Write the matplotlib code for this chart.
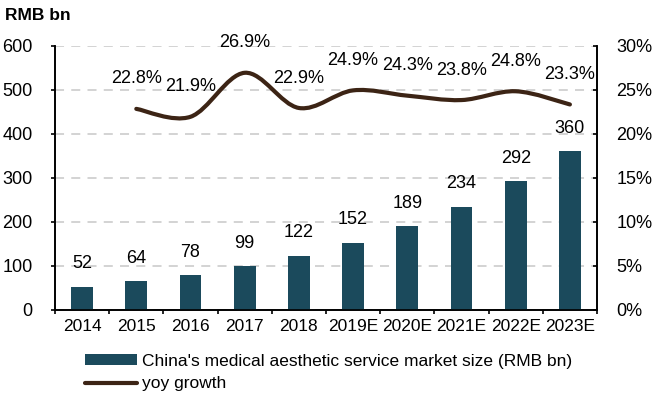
import matplotlib
matplotlib.use("Agg")
import matplotlib.pyplot as plt
from matplotlib.path import Path
from matplotlib.patches import PathPatch
from matplotlib.lines import Line2D
from matplotlib.patches import Patch
from matplotlib.ticker import FuncFormatter, MultipleLocator
import numpy as np

plt.rcParams['font.family'] = ['Liberation Sans', 'DejaVu Sans']

years = ["2014", "2015", "2016", "2017", "2018", "2019E", "2020E", "2021E", "2022E", "2023E"]
market_size = [52, 64, 78, 99, 122, 152, 189, 234, 292, 360]
yoy_growth = [None, 22.8, 21.9, 26.9, 22.9, 24.9, 24.3, 23.8, 24.8, 23.3]

bar_color = "#1b4a5c"
line_color = "#3c2415"
fs = 12.5

fig = plt.figure(figsize=(6.52, 3.94), dpi=100)
ax = fig.add_axes([55 / 652, 1 - 309.5 / 394, (597 - 55) / 652, (309.5 - 45.5) / 394])
ax2 = ax.twinx()

x = np.arange(len(years))
ax.bar(x, market_size, width=0.4, color=bar_color, zorder=3)
for xi, v in zip(x, market_size):
    ax.annotate(f"{v}", (xi, v), xytext=(0, 16.5), textcoords="offset points",
                ha="center", va="center", fontsize=fs + 0.5, color="black")

ax.set_xlim(-0.5, len(years) - 0.5)
ax.set_ylim(0, 600)
ax.yaxis.set_major_locator(MultipleLocator(100))
ax.set_xticks(x)
ax.set_xticklabels(years)
ax.set_xticks(np.arange(-0.5, len(years)), minor=True)
ax.tick_params(axis="x", which="major", length=0, pad=7, labelsize=fs)
ax.tick_params(axis="x", which="minor", length=3, width=1.2, direction="out")
ax.tick_params(axis="y", length=3, width=1.2, direction="out", pad=13, labelsize=fs + 0.5)
ax.grid(axis="y", color="#d0d0d0", linestyle=(0, (5, 4)), linewidth=1.3, zorder=0)
ax.set_axisbelow(True)

for a in (ax, ax2):
    a.spines["top"].set_visible(False)
    for s in ("left", "right", "bottom"):
        a.spines[s].set_linewidth(1.2)

# Growth line on the secondary axis, smoothed with Bezier segments
ax2.set_ylim(0, 30)
ax2.yaxis.set_major_locator(MultipleLocator(5))
ax2.yaxis.set_major_formatter(FuncFormatter(lambda v, p: f"{v:.0f}%"))
ax2.tick_params(axis="y", length=3, width=1.2, direction="in", pad=14, labelsize=fs + 0.5)

pts = [(xi, g) for xi, g in zip(x, yoy_growth) if g is not None]
pts = np.array(pts, dtype=float)
verts = [tuple(pts[0])]
codes = [Path.MOVETO]
n = len(pts)
for i in range(n - 1):
    p0 = pts[i - 1] if i > 0 else pts[i]
    p1 = pts[i]
    p2 = pts[i + 1]
    p3 = pts[i + 2] if i + 2 < n else pts[i + 1]
    c1 = p1 + (p2 - p0) / 6
    c2 = p2 - (p3 - p1) / 6
    verts += [tuple(c1), tuple(c2), tuple(p2)]
    codes += [Path.CURVE4] * 3
ax2.add_patch(PathPatch(Path(verts, codes), fill=False, edgecolor=line_color,
                        linewidth=3, capstyle="round", joinstyle="round", zorder=4))
for xi, g in pts:
    ax2.annotate(f"{g:.1f}%", (xi, g), xytext=(0, 21.5), textcoords="offset points",
                 ha="center", va="center", fontsize=fs + 0.5, color="black")

fig.text(5 / 652, 1 - 16 / 394, "RMB bn", fontsize=12.5, fontweight="bold",
         ha="left", va="center")

handles = [Patch(facecolor=bar_color, edgecolor="none"),
           Line2D([], [], color=line_color, linewidth=3, solid_capstyle="round")]
labels = ["China's medical aesthetic service market size (RMB bn)", "yoy growth"]
fig.legend(handles, labels, loc="upper left", bbox_to_anchor=(76 / 652, 1 - 345 / 394),
           bbox_transform=fig.transFigure, frameon=False, fontsize=fs, borderpad=0,
           handlelength=3.0, handleheight=0.6, handletextpad=0.3, labelspacing=0.45)

fig.savefig("out.png", dpi=100)
